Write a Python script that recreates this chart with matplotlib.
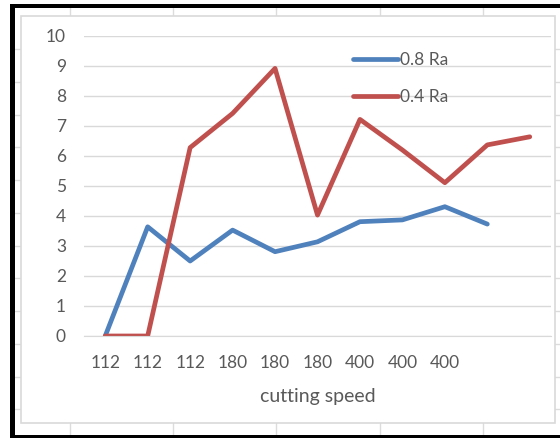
import matplotlib.pyplot as plt
from matplotlib.patches import Rectangle
from matplotlib.lines import Line2D

plt.rcParams['font.family'] = ['Lato', 'DejaVu Sans']

# data
speed_labels = ["112", "112", "112", "180", "180", "180", "400", "400", "400"]
ra_08 = [0, 3.64, 2.5, 3.53, 2.81, 3.14, 3.81, 3.87, 4.31, 3.73]
ra_04 = [0, 0, 6.28, 7.42, 8.92, 4.03, 7.22, 6.2, 5.11, 6.37, 6.64]

W, H = 560, 438
BLUE = "#4F81BD"
RED = "#C0504D"
TXT = "#595959"


def fx(x):
    return x / W


def fy(y):
    return 1 - y / H


fig = plt.figure(figsize=(W / 100, H / 100), dpi=100)
fig.patch.set_facecolor("white")

# spreadsheet cell lines behind the chart
cell_col = "#DCDCDC"
for x in [70, 173, 276, 380, 483]:
    fig.add_artist(Line2D([fx(x), fx(x)], [fy(8), fy(435)], color=cell_col, lw=1, zorder=-3))
for y in [49, 82, 115, 147, 180, 213, 246, 278, 311, 344, 377, 409]:
    fig.add_artist(Line2D([fx(15), fx(560)], [fy(y), fy(y)], color=cell_col, lw=1, zorder=-3))

# chart area
fig.add_artist(Rectangle((fx(21), fy(423)), fx(555) - fx(21), fy(16) - fy(423),
                         facecolor="white", edgecolor="#D9D9D9", lw=1.2, zorder=-2))

# black screenshot frame
fig.add_artist(Rectangle((fx(10), fy(8)), fx(560) - fx(10), 4 / H, color="black", lw=0, zorder=5))
fig.add_artist(Rectangle((fx(10), fy(438)), 5 / W, fy(4) - fy(438), color="black", lw=0, zorder=5))
fig.add_artist(Rectangle((fx(10), fy(438)), fx(560) - fx(10), 3 / H, color="black", lw=0, zorder=5))

ax = fig.add_axes([fx(84), fy(336), fx(551) - fx(84), fy(36) - fy(336)])
ax.set_facecolor("none")

ax.plot(range(len(ra_08)), ra_08, color=BLUE, lw=3.4, label="0.8 Ra",
        solid_joinstyle="round", solid_capstyle="round")
ax.plot(range(len(ra_04)), ra_04, color=RED, lw=3.4, label="0.4 Ra",
        solid_joinstyle="round", solid_capstyle="round")

ax.set_xlim(-0.5, len(ra_04) - 0.5)
ax.set_ylim(0, 10)
ax.set_yticks(range(0, 11))
ax.set_xticks(range(len(speed_labels)))
ax.set_xticklabels(speed_labels)
ax.grid(axis="y", color="#D9D9D9", lw=1)
ax.set_axisbelow(True)
for s in ["top", "right", "left"]:
    ax.spines[s].set_visible(False)
ax.spines["bottom"].set_color("#D9D9D9")
ax.tick_params(length=0, labelsize=12.5, colors=TXT)
ax.tick_params(axis="y", pad=13)
ax.tick_params(axis="x", pad=14)
ax.set_xlabel("cutting speed", fontsize=14, color=TXT, labelpad=12)

ax.legend(loc="upper left", bbox_to_anchor=(0.576, 0.948), frameon=False,
          fontsize=12.5, labelcolor=TXT, handlelength=2.6, handletextpad=0.1,
          labelspacing=1.21, borderpad=0, borderaxespad=0)

fig.savefig("out.png", dpi=100)
